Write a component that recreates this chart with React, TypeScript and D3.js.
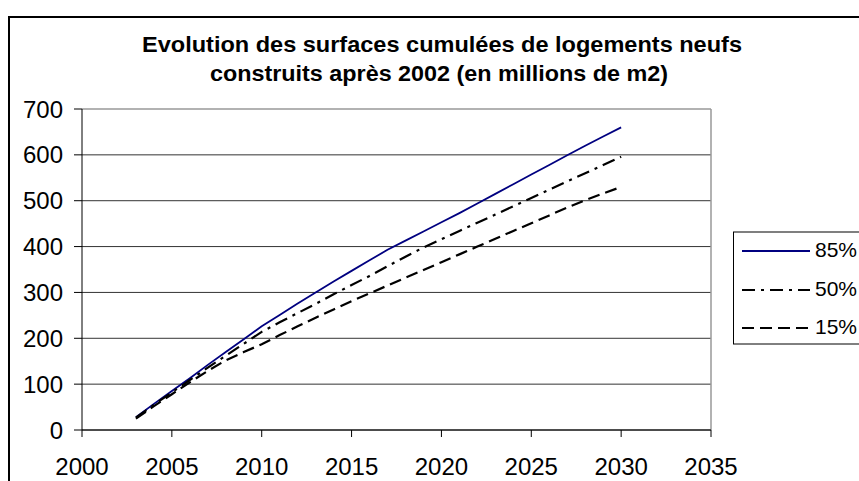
import React from "react";
import * as d3 from "d3";

const years = [2003, 2004, 2005, 2006, 2007, 2008, 2009, 2010, 2011, 2012, 2013, 2014, 2015, 2016, 2017, 2018, 2019, 2020, 2021, 2022, 2023, 2024, 2025, 2026, 2027, 2028, 2029, 2030];
const s85 = [28, 57, 85, 113, 142, 170, 198, 226, 251, 276, 300, 324, 347, 370, 393, 413, 433, 453, 473, 494, 515, 536, 557, 578, 599, 620, 640, 660];
const s50 = [27, 55, 82, 109, 136, 162, 188, 214, 235, 255, 275, 296, 316, 336, 357, 378, 398, 416, 434, 452, 470, 488, 506, 524, 542, 560, 578, 596];
const s15 = [25, 52, 78, 104, 129, 152, 170, 187, 207, 226, 245, 263, 281, 298, 315, 332, 349, 366, 383, 400, 417, 434, 451, 468, 485, 501, 516, 530];
const xTicks = [2000, 2005, 2010, 2015, 2020, 2025, 2030, 2035];
const yTicks = [0, 100, 200, 300, 400, 500, 600, 700];
const seriesNames = ["85%", "50%", "15%"];
const titleLines = ["Evolution des surfaces cumulées de logements neufs", "construits après 2002 (en millions de m2)"];

const W = 859;
const H = 481;
const font = "'Liberation Sans', Arial, sans-serif";

export default function App() {
  const x = d3.scaleLinear().domain([2000, 2035]).range([82, 711]);
  const y = d3.scaleLinear().domain([0, 700]).range([430, 109]);
  const line = d3
    .line<number>()
    .x((_, i) => x(years[i]))
    .y((d) => y(d));

  const styles = [
    { stroke: "#000080", width: 1.8, dash: undefined as string | undefined },
    { stroke: "#000", width: 2.2, dash: "13,6,3,6" },
    { stroke: "#000", width: 2.2, dash: "12,6" },
  ];
  const data = [s85, s50, s15];
  const legendY = [251, 290, 328];
  const titleX = [442, 439];
  const titleY = [52, 81];
  const titleLen = [600, 458];

  return (
    <svg width={W} height={H} style={{ position: "absolute", left: 0, top: 0, background: "#fff" }} fontFamily={font}>
      <rect x={0} y={0} width={W} height={H} fill="#fff" />
      {/* outer frame */}
      <path d={`M9,${H + 5} V17 H${W + 5}`} fill="none" stroke="#000" strokeWidth={2} />
      {/* title */}
      {titleLines.map((t, i) => (
        <text key={i} x={titleX[i]} y={titleY[i]} textAnchor="middle" fontSize={22} fontWeight="bold" fill="#000" textLength={titleLen[i]} lengthAdjust="spacingAndGlyphs">
          {t}
        </text>
      ))}
      {/* gridlines */}
      {yTicks.map((v) => (
        <line key={v} x1={x(2000)} x2={x(2035)} y1={y(v)} y2={y(v)} stroke={v === 700 ? "#999" : "#333"} strokeWidth={v === 700 ? 1.5 : 1} />
      ))}
      {/* plot area right border */}
      <line x1={x(2035)} x2={x(2035)} y1={y(700)} y2={y(0)} stroke="#999" strokeWidth={1.5} />
      {/* axes */}
      <line x1={x(2000)} x2={x(2000)} y1={y(700)} y2={y(0)} stroke="#000" strokeWidth={1} />
      <line x1={x(2000)} x2={x(2035)} y1={y(0)} y2={y(0)} stroke="#000" strokeWidth={1} />
      {yTicks.map((v) => (
        <g key={v}>
          <line x1={x(2000) - 8} x2={x(2000)} y1={y(v)} y2={y(v)} stroke="#000" />
          <text x={63} y={y(v) + 8.6} textAnchor="end" fontSize={24} fill="#000">
            {v}
          </text>
        </g>
      ))}
      {xTicks.map((v) => (
        <g key={v}>
          <line x1={x(v)} x2={x(v)} y1={y(0)} y2={y(0) + 7} stroke="#000" />
          <text x={x(v)} y={475} textAnchor="middle" fontSize={24} fill="#000">
            {v}
          </text>
        </g>
      ))}
      {/* series */}
      {data.map((d, i) => (
        <path key={i} d={line(d) || ""} fill="none" stroke={styles[i].stroke} strokeWidth={styles[i].width} strokeDasharray={styles[i].dash} />
      ))}
      {/* legend */}
      <rect x={733.5} y={232} width={140} height={112} fill="#fff" stroke="#000" strokeWidth={1} />
      {seriesNames.map((n, i) => (
        <g key={n}>
          <line x1={742} x2={810} y1={legendY[i]} y2={legendY[i]} stroke={styles[i].stroke} strokeWidth={styles[i].width} strokeDasharray={styles[i].dash} />
          <text x={815} y={legendY[i] + 6} fontSize={21} fill="#000">
            {n}
          </text>
        </g>
      ))}
    </svg>
  );
}
